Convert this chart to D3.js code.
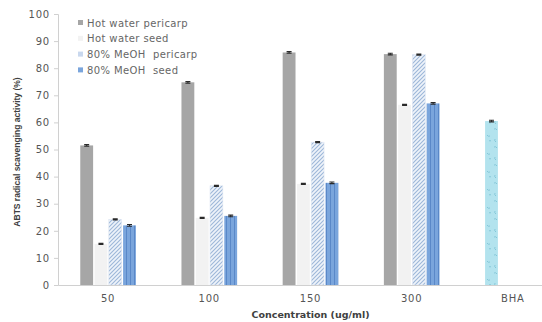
<!DOCTYPE html>
<html>
<head>
<meta charset="utf-8">
<script src="https://cdn.jsdelivr.net/npm/d3@7"></script>
<style>
  html, body { margin: 0; padding: 0; background: #fff; }
  svg { display: block; }
  text { white-space: pre; }
</style>
</head>
<body>
<svg id="chart" width="542" height="322"></svg>
<script>
// Concentration groups on the x axis
const categories = ["50", "100", "150", "300", "BHA"];
const seriesNames = ["Hot water pericarp", "Hot water seed", "80% MeOH  pericarp", "80% MeOH  seed"];
// ABTS radical scavenging activity (%) for each extract, per concentration
const hotWaterPericarp = [51.5, 74.8, 85.8, 85.2, null];
const hotWaterSeed     = [15.2, 24.8, 37.3, 66.5, null];
const meohPericarp     = [24.2, 36.6, 52.7, 85.0, null];
const meohSeed         = [22.0, 25.5, 37.7, 67.0, null];
const bhaValue = 60.5;
const errors = [0.3, 0.2, 0.2, 0.3];
const yTicks = [0, 10, 20, 30, 40, 50, 60, 70, 80, 90, 100];

const svg = d3.select("#chart");
const defs = svg.append("defs");

// diagonal hatch for MeOH pericarp
const hatch = defs.append("pattern").attr("id", "hatch").attr("patternUnits", "userSpaceOnUse")
  .attr("width", 4).attr("height", 4);
hatch.append("rect").attr("width", 4).attr("height", 4).attr("fill", "#eef3fa");
hatch.append("path").attr("d", "M-1,1 l2,-2 M0,4 l4,-4 M3,5 l2,-2")
  .attr("stroke", "#9db7d9").attr("stroke-width", 1.1);

// vertical stripes for MeOH seed
const stripes = defs.append("pattern").attr("id", "stripes").attr("patternUnits", "userSpaceOnUse")
  .attr("width", 4).attr("height", 4);
stripes.append("rect").attr("width", 4).attr("height", 4).attr("fill", "#7aa5dc");
stripes.append("rect").attr("x", 2).attr("width", 1).attr("height", 4).attr("fill", "#5a88c8");

// speckled texture for BHA
const speck = defs.append("pattern").attr("id", "speck").attr("patternUnits", "userSpaceOnUse")
  .attr("width", 12).attr("height", 18);
speck.append("rect").attr("width", 12).attr("height", 18).attr("fill", "#b3e3ee");
speck.append("path").attr("d", "M2,3 q2,-1 3,1 M7,9 q1,2 3,1 M3,13 q-1,2 1,3 M9,15 q1,-1 2,0")
  .attr("stroke", "#7fc4d6").attr("stroke-width", 0.9).attr("fill", "none");

const fills = ["#a6a6a6", "#f2f2f2", "url(#hatch)", "url(#stripes)"];
const legendFills = ["#a6a6a6", "#f2f2f2", "#c9d8ee", "#7aa5dc"];

const margin = { left: 58, top: 14, bottom: 285, right: 563 };
const x = d3.scaleBand().domain(categories).range([margin.left, margin.right]).paddingInner(0.45).paddingOuter(0.22);
const xs = d3.scaleBand().domain(d3.range(4)).range([0, x.bandwidth()]).paddingInner(0.1);
const y = d3.scaleLinear().domain([0, 100]).range([margin.bottom, margin.top]);

const series = [hotWaterPericarp, hotWaterSeed, meohPericarp, meohSeed];

// y axis
const yAxis = svg.append("g").attr("transform", `translate(${margin.left},0)`)
  .call(d3.axisLeft(y).tickValues(yTicks).tickSize(4).tickPadding(4));
yAxis.select(".domain").attr("stroke", "#d0d0d0");
yAxis.selectAll(".tick line").attr("stroke", "#d0d0d0");
yAxis.selectAll(".tick text").attr("fill", "#555").attr("font-family", "DejaVu Sans")
  .attr("font-size", 10).attr("letter-spacing", 0.8);

// draws a small error bar centred on cx
function errorBar(cx, v, e) {
  svg.append("path")
    .attr("d", `M${cx - 2.5},${y(v + e)}h5M${cx},${y(v + e)}V${y(v - e)}M${cx - 2.5},${y(v - e)}h5`)
    .attr("stroke", "#2a2a2a").attr("stroke-width", 1.1).attr("fill", "none");
}

// bars
series.forEach((vals, si) => {
  const g = svg.append("g");
  categories.forEach((c, ci) => {
    const v = vals[ci];
    if (v == null) return;
    const bx = x(c) + xs(si);
    g.append("rect").attr("x", bx).attr("y", y(v)).attr("width", xs.bandwidth())
      .attr("height", y(0) - y(v)).attr("fill", fills[si])
      .attr("stroke", si === 2 ? "#dfe7f3" : "none").attr("stroke-width", 0.6);
    errorBar(bx + xs.bandwidth() / 2, v, errors[si]);
  });
});

// BHA reference bar
{
  const bx = x("BHA") + xs(0);
  svg.append("rect").attr("x", bx).attr("y", y(bhaValue)).attr("width", xs.bandwidth())
    .attr("height", y(0) - y(bhaValue)).attr("fill", "url(#speck)");
  errorBar(bx + xs.bandwidth() / 2, bhaValue, 0.3);
}

// x axis
const xAxis = svg.append("g").attr("transform", `translate(0,${margin.bottom})`)
  .call(d3.axisBottom(x).tickSize(0).tickPadding(10));
xAxis.select(".domain").attr("stroke", "#d0d0d0");
xAxis.selectAll(".tick text").attr("fill", "#555").attr("font-family", "DejaVu Sans")
  .attr("font-size", 10).attr("letter-spacing", 0.8);

// axis titles
svg.append("text").attr("x", (margin.left + margin.right) / 2).attr("y", 318)
  .attr("text-anchor", "middle").attr("font-family", "DejaVu Sans").attr("font-weight", "bold")
  .attr("font-size", 9.5).attr("fill", "#404040").text("Concentration (ug/ml)");
svg.append("text").attr("transform", "translate(20,152) rotate(-90)")
  .attr("text-anchor", "middle").attr("font-family", "Liberation Sans").attr("font-weight", "bold")
  .attr("font-size", 8.5).attr("fill", "#404040").text("ABTS radical scavenging activity (%)");

// legend
const legend = svg.append("g").attr("transform", "translate(78,23)");
seriesNames.forEach((n, i) => {
  const row = legend.append("g").attr("transform", `translate(0,${i * 15.8})`);
  row.append("rect").attr("x", 0).attr("y", -3).attr("width", 5).attr("height", 5).attr("fill", legendFills[i]);
  row.append("text").attr("x", 9).attr("y", 0).attr("dy", "0.35em").attr("font-family", "DejaVu Sans")
    .attr("font-size", 10).attr("fill", "#666").attr("letter-spacing", 0.4).text(n);
});
</script>
</body>
</html>
